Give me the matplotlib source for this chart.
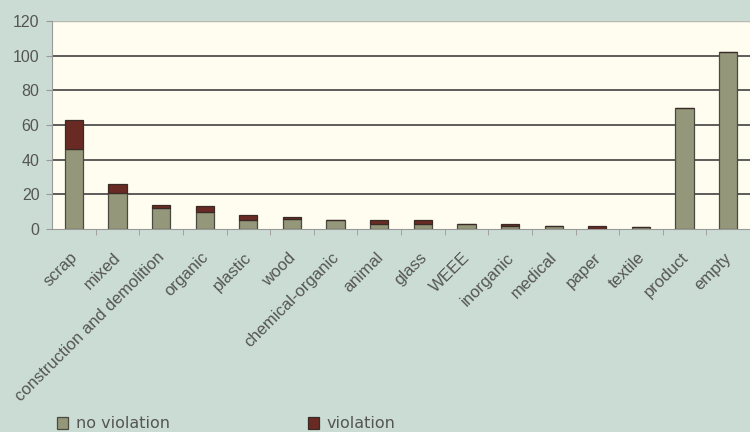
import numpy as np
import matplotlib as mpl
import matplotlib.pyplot as plt
from matplotlib.transforms import ScaledTranslation

mpl.rc('font', family=['Liberation Sans', 'DejaVu Sans'], size=10)

categories = ['scrap', 'mixed', 'construction and demolition', 'organic', 'plastic',
              'wood', 'chemical-organic', 'animal', 'glass', 'WEEE', 'inorganic',
              'medical', 'paper', 'textile', 'product', 'empty']
no_violation = [46, 21, 12, 10, 5, 6, 5, 3, 3, 3, 2, 2, 0, 1, 70, 102]
violation = [17, 5, 2, 3, 3, 1, 0, 2, 2, 0, 1, 0, 2, 0, 0, 0]
y_ticks = [0, 20, 40, 60, 80, 100, 120]

bg = '#cadcd4'
plot_bg = '#fffdf0'
c_nv = '#95977a'
c_v = '#6a2a24'
txt = '#555555'


def add_axes1(fig, lm, bm, rm, tm):
    """Axes from left/bottom/right/top margins in figure fractions"""
    return fig.add_axes((lm, bm, rm - lm, tm - bm))


def run(fig):
    ax = add_axes1(fig, lm=52/750, bm=(432-229)/432, rm=1.0, tm=(432-21)/432)
    ax.set_facecolor(plot_bg)
    x = np.arange(len(categories))
    h1 = ax.bar(x, no_violation, width=0.42, color=c_nv, edgecolor='#4a4a40',
                linewidth=0.9, zorder=3, label='no violation')
    h2 = ax.bar(x, violation, width=0.42, bottom=no_violation, color=c_v,
                edgecolor='#3a2a26', linewidth=0.9, zorder=3, label='violation')

    ax.set_xlim(-0.5, len(categories) - 0.5)
    ax.set_ylim(0, 120)
    ax.set_yticks(y_ticks)
    ax.set_yticklabels([str(v) for v in y_ticks], color=txt, fontsize=11.5)
    for v in y_ticks[1:-1]:
        ax.axhline(v, color='#505050', lw=1.3, zorder=1)
    ax.axhline(120, color='#b8b8b0', lw=1.0, zorder=1)

    ax.set_xticks(x)
    ax.set_xticklabels(categories, rotation=45, ha='right', va='top',
                       rotation_mode='anchor', color=txt, fontsize=12)
    ax.tick_params(axis='x', length=0, pad=15)
    # nudge labels a little to the left
    off = ScaledTranslation(-4/100, 0, fig.dpi_scale_trans)
    for lab in ax.get_xticklabels():
        lab.set_transform(lab.get_transform() + off)
    ax.set_xticks(x[:-1] + 0.5, minor=True)
    ax.tick_params(axis='x', which='minor', length=4, color='#999999', direction='out')
    ax.tick_params(axis='y', length=4, color='#999999', direction='out', pad=5)

    for s in ['top', 'right']:
        ax.spines[s].set_visible(False)
    ax.spines['left'].set_color('#999999')
    ax.spines['bottom'].set_color('#999999')

    fig.legend(handles=[h1, h2], loc='center left', bbox_to_anchor=(57/750, 8/432),
               ncol=2, frameon=False, handlelength=0.7, handleheight=0.7,
               handletextpad=0.5, columnspacing=8.6, borderpad=0, borderaxespad=0,
               labelcolor=txt, prop={'family': 'DejaVu Sans', 'size': 11.5})


if __name__ == '__main__':
    fig = plt.figure(figsize=(7.5, 4.32), dpi=100, facecolor=bg)
    run(fig)
    fig.savefig('out.png', dpi=100, facecolor=bg)
